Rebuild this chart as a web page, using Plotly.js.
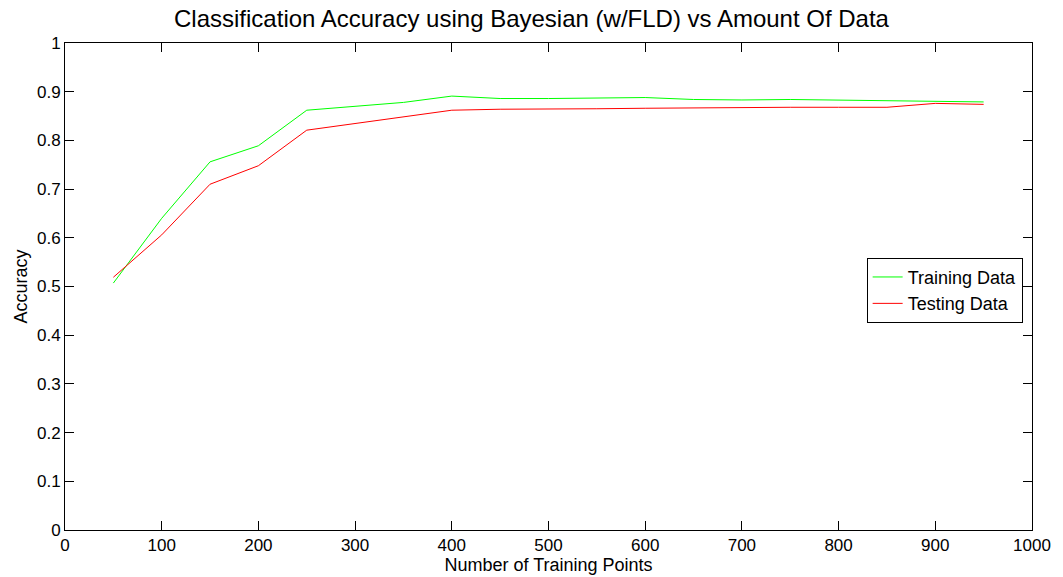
<!DOCTYPE html>
<html>
<head>
<meta charset="utf-8">
<script src="https://cdn.plot.ly/plotly-3.0.1.min.js"></script>
<style>
  html, body { margin: 0; padding: 0; background: #fff; }
  #chart { width: 1063px; height: 577px; }
</style>
</head>
<body>
<div id="chart"></div>
<script>
// Number of training points used for each run
const trainingPoints = [50, 100, 150, 200, 250, 300, 350, 400, 450, 500, 550, 600, 650, 700, 750, 800, 850, 900, 950];

// Classification accuracy on the training set
const trainingAccuracy = [0.507, 0.640, 0.756, 0.789, 0.862, 0.870, 0.878, 0.891, 0.886, 0.886, 0.887, 0.888, 0.884, 0.883, 0.884, 0.883, 0.881, 0.880, 0.879];

// Classification accuracy on the held-out test set
const testingAccuracy = [0.519, 0.606, 0.710, 0.748, 0.821, 0.835, 0.848, 0.862, 0.864, 0.864, 0.865, 0.866, 0.867, 0.868, 0.868, 0.868, 0.868, 0.876, 0.874];

const xTicks = [0, 100, 200, 300, 400, 500, 600, 700, 800, 900, 1000];
const yTicks = [0, 0.1, 0.2, 0.3, 0.4, 0.5, 0.6, 0.7, 0.8, 0.9, 1];

const font = 'Liberation Sans, Arial, Helvetica, sans-serif';

const traces = [
  {
    x: trainingPoints, y: trainingAccuracy, name: 'Training Data',
    type: 'scatter', mode: 'lines',
    line: { color: '#00ff00', width: 1 }
  },
  {
    x: trainingPoints, y: testingAccuracy, name: 'Testing Data',
    type: 'scatter', mode: 'lines',
    line: { color: '#ff0000', width: 1 }
  }
];

const axisCommon = {
  showgrid: false, zeroline: false,
  showline: true, linecolor: '#000', linewidth: 1, mirror: 'ticks',
  ticks: 'inside', ticklen: 9, tickcolor: '#000', tickwidth: 1,
  tickfont: { family: font, size: 17, color: '#000' }
};

const layout = {
  width: 1063, height: 577,
  paper_bgcolor: '#fff', plot_bgcolor: '#fff',
  margin: { l: 65, r: 31, t: 43, b: 47 },
  title: {
    text: 'Classification Accuracy using Bayesian (w/FLD) vs Amount Of Data',
    font: { family: font, size: 24, color: '#000' },
    x: 0.5, xanchor: 'center', y: 0.968, yanchor: 'middle'
  },
  xaxis: Object.assign({}, axisCommon, {
    range: [0, 1000], tickvals: xTicks, ticktext: xTicks.map(String),
    title: { text: 'Number of Training Points', font: { family: font, size: 18, color: '#000' }, standoff: 0 }
  }),
  yaxis: Object.assign({}, axisCommon, {
    range: [0, 1], tickvals: yTicks, ticktext: yTicks.map(String),
    title: { text: 'Accuracy', font: { family: font, size: 18, color: '#000' }, standoff: 4 }
  }),
  showlegend: true,
  legend: {
    x: 0.829, y: 0.559, xanchor: 'left', yanchor: 'top',
    bgcolor: '#fff', bordercolor: '#000', borderwidth: 1,
    font: { family: font, size: 18, color: '#000' },
    tracegroupgap: 0, itemwidth: 30
  }
};

Plotly.newPlot('chart', traces, layout, { displayModeBar: false, staticPlot: true });
</script>
</body>
</html>
